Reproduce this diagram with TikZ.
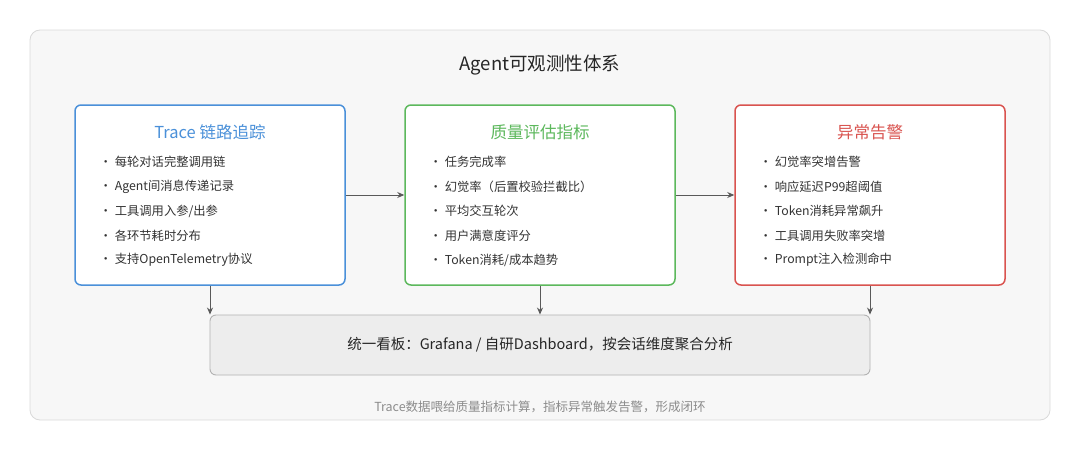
\documentclass[tikz,border=0pt]{standalone}
\usepackage{fontspec}
\setmainfont{Noto Sans CJK SC}
\usetikzlibrary{arrows.meta}
\definecolor{cb}{HTML}{4A90D9}
\definecolor{cg}{HTML}{5CB85C}
\definecolor{cr}{HTML}{D9534F}
\begin{document}
\begin{tikzpicture}[x=1pt,y=-1pt,
  card/.style={draw=#1,line width=1.5pt,rounded corners=6pt,fill=white},
  ttl/.style={font=\fontsize{16.5}{18}\selectfont,text=#1},
  item/.style={font=\fontsize{12.3}{14}\selectfont,text=black!80,anchor=west},
  arr/.style={-{Stealth[length=7pt,width=6pt]},draw=black!65,line width=0.9pt}]
\useasboundingbox (0,0) rectangle (1080,450);
\node[draw=black!15,fill=black!3,rounded corners=10pt,minimum width=1020pt,minimum height=390pt,line width=0.8pt] (outer) at (540,225) {};
\node[font=\fontsize{18.5}{20}\selectfont,text=black!85] (title) at (540,65) {Agent可观测性体系};
\foreach \n/\x/\c/\t/\a/\b/\cc/\d/\e in {
 b1/210/cb/Trace 链路追踪/每轮对话完整调用链/Agent间消息传递记录/工具调用入参\slash 出参/各环节耗时分布/支持OpenTelemetry协议,
 b2/540/cg/质量评估指标/任务完成率/幻觉率（后置校验拦截比）/平均交互轮次/用户满意度评分/Token消耗\slash 成本趋势,
 b3/870/cr/异常告警/幻觉率突增告警/响应延迟P99超阈值/Token消耗异常飙升/工具调用失败率突增/Prompt注入检测命中}{
 \node[card=\c,minimum width=270pt,minimum height=180pt] (\n) at (\x,195) {};
 \node[ttl=\c] (\n t) at (\x,132) {\t};
 \node[item] (\n i1) at (\x-114,162) {•\hspace{3pt}\a};
 \node[item] (\n i2) at (\x-114,187) {•\hspace{3pt}\b};
 \node[item] (\n i3) at (\x-114,211) {•\hspace{3pt}\cc};
 \node[item] (\n i4) at (\x-114,236) {•\hspace{3pt}\d};
 \node[item] (\n i5) at (\x-114,260) {•\hspace{3pt}\e};
}
\node[draw=black!30,fill=black!7,rounded corners=6pt,minimum width=660pt,minimum height=60pt,line width=0.9pt,font=\fontsize{14.5}{16}\selectfont,text=black!85] (dash) at (540,345) {统一看板：Grafana / 自研Dashboard，按会话维度聚合分析};
\node[font=\fontsize{12.5}{14}\selectfont,text=black!45] (foot) at (540,407) {Trace数据喂给质量指标计算，指标异常触发告警，形成闭环};
\draw[arr] (b1.east) -- (b2.west);
\draw[arr] (b2.east) -- (b3.west);
\draw[arr] (b1.south) -- (b1.south |- dash.north);
\draw[arr] (b2.south) -- (dash.north);
\draw[arr] (b3.south) -- (b3.south |- dash.north);
\end{tikzpicture}
\end{document}
